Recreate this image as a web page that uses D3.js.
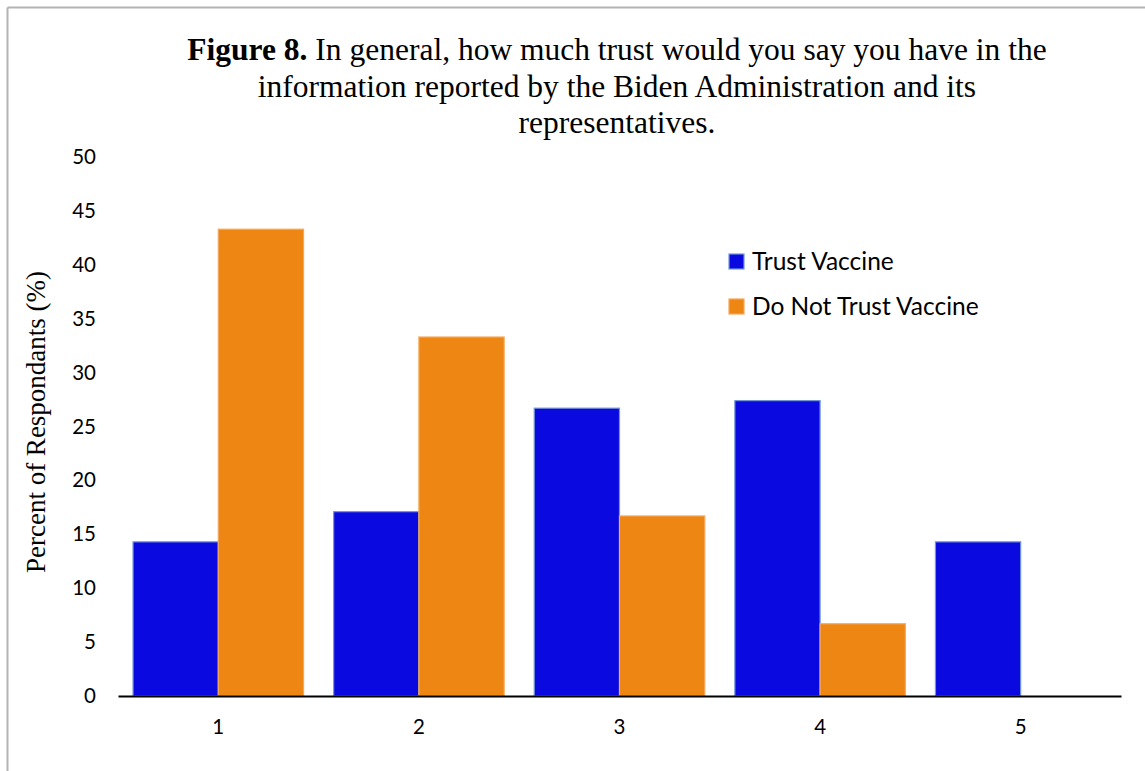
<!DOCTYPE html>
<html>
<head>
<meta charset="utf-8">
<script src="https://cdn.jsdelivr.net/npm/d3@7"></script>
<style>
  html, body { margin: 0; padding: 0; background: #fff; }
  svg { display: block; }
</style>
</head>
<body>
<svg id="chart" width="1145" height="771"></svg>
<script>
// Survey response categories (1 = no trust ... 5 = complete trust)
const categories = ["1", "2", "3", "4", "5"];
const seriesNames = ["Trust Vaccine", "Do Not Trust Vaccine"];
const trustVaccine = [14.3, 17.1, 26.7, 27.4, 14.3];
const doNotTrustVaccine = [43.3, 33.3, 16.7, 6.7, 0];
const yTicks = [0, 5, 10, 15, 20, 25, 30, 35, 40, 45, 50];

const seriesValues = [trustVaccine, doNotTrustVaccine];
const fills = ["#0a0ae0", "#ee8614"];
const strokes = ["#7496d6", "#f4a75a"];

const svg = d3.select("#chart");
const W = 1145, H = 771;
const margin = { left: 118, right: 24, top: 157, bottom: 75 };
const plotW = W - margin.left - margin.right;
const plotH = H - margin.top - margin.bottom;

// Outer frame (top and left edges)
svg.append("line").attr("x1", 7.5).attr("x2", W).attr("y1", 7.5).attr("y2", 7.5)
  .attr("stroke", "#b3b3b3").attr("stroke-width", 2);
svg.append("line").attr("x1", 7.5).attr("x2", 7.5).attr("y1", 7.5).attr("y2", H)
  .attr("stroke", "#b3b3b3").attr("stroke-width", 2);

// Title
const title = svg.append("text")
  .attr("text-anchor", "middle")
  .attr("font-family", "'Liberation Serif', 'Times New Roman', serif")
  .attr("font-size", 31.5)
  .attr("fill", "#000");
const l1 = title.append("tspan").attr("x", 617).attr("y", 60);
l1.append("tspan").attr("font-weight", "bold").text("Figure 8.");
l1.append("tspan").text(" In general, how much trust would you say you have in the");
title.append("tspan").attr("x", 617).attr("y", 97)
  .text("information reported by the Biden Administration and its");
title.append("tspan").attr("x", 617).attr("y", 133).text("representatives.");

const g = svg.append("g").attr("transform", `translate(${margin.left},${margin.top})`);

const x = d3.scaleBand().domain(categories).range([0, plotW])
  .paddingInner(0.15).paddingOuter(0.075);
const xSub = d3.scaleBand().domain(d3.range(seriesNames.length))
  .range([0, x.bandwidth()]).padding(0);
const y = d3.scaleLinear().domain([0, 50]).range([plotH, 0]);

// Bars
categories.forEach((c, i) => {
  seriesValues.forEach((vals, s) => {
    const v = vals[i];
    if (v <= 0) return;
    g.append("rect")
      .attr("x", x(c) + xSub(s))
      .attr("y", y(v))
      .attr("width", xSub.bandwidth())
      .attr("height", y(0) - y(v))
      .attr("fill", fills[s])
      .attr("stroke", strokes[s])
      .attr("stroke-width", 1.2);
  });
});

// Y axis (labels only)
const yAxis = g.append("g").call(d3.axisLeft(y).tickValues(yTicks).tickSize(0).tickPadding(22));
yAxis.select(".domain").remove();
yAxis.selectAll("text")
  .attr("font-family", "Lato, 'Open Sans', sans-serif")
  .attr("font-size", 20.5)
  .attr("fill", "#000");

// X axis
const xAxis = g.append("g").attr("transform", `translate(0,${plotH})`)
  .call(d3.axisBottom(x).tickSize(0).tickPadding(23));
xAxis.select(".domain").attr("stroke", "#000").attr("stroke-width", 2);
xAxis.selectAll("text")
  .attr("font-family", "Lato, 'Open Sans', sans-serif")
  .attr("font-size", 20.5)
  .attr("fill", "#000");

// Y axis title
svg.append("text")
  .attr("transform", "translate(45,422) rotate(-90)")
  .attr("text-anchor", "middle")
  .attr("font-family", "'Liberation Serif', 'Times New Roman', serif")
  .attr("font-size", 27)
  .attr("fill", "#000")
  .text("Percent of Respondants (%)");

// Legend
const legend = svg.append("g").attr("transform", "translate(729,254)");
seriesNames.forEach((name, s) => {
  const row = legend.append("g").attr("transform", `translate(0,${s * 45})`);
  row.append("rect").attr("width", 15).attr("height", 15)
    .attr("fill", fills[s]).attr("stroke", strokes[s]).attr("stroke-width", 1.2);
  row.append("text").attr("x", 23).attr("y", 16)
    .attr("font-family", "Lato, 'Open Sans', sans-serif")
    .attr("font-size", 24.5)
    .attr("fill", "#000")
    .text(name);
});
</script>
</body>
</html>
